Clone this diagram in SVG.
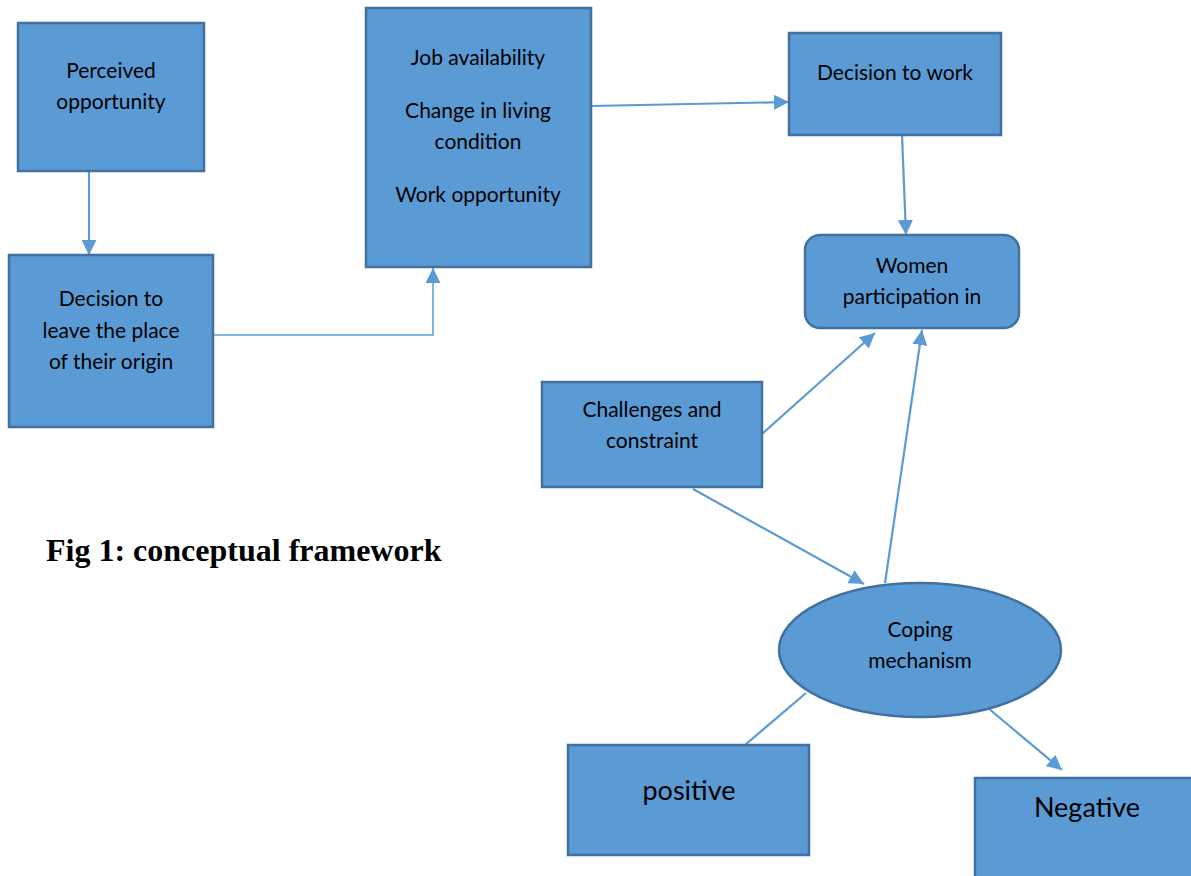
<svg xmlns="http://www.w3.org/2000/svg" width="1191" height="876" viewBox="0 0 1191 876">
  <style>
    .box { fill: #5B9BD5; stroke: #41719C; stroke-width: 2.5; }
    .lbl { font-family: Lato, "Open Sans", "Liberation Sans", sans-serif; font-size: 21px; fill: #000; text-anchor: middle; }
    .big { font-size: 27px; }
    .conn { fill: none; stroke: #5B9BD5; stroke-width: 2.2; }
    .thin { stroke-width: 1.5; }
    .cap { font-family: "Liberation Serif", "Times New Roman", serif; font-weight: bold; font-size: 32px; fill: #000; }
  </style>
  <defs>
    <marker id="arrow" viewBox="0 0 10 10" refX="10" refY="5" markerWidth="15" markerHeight="15" markerUnits="userSpaceOnUse" orient="auto">
      <path d="M0,0 L10,5 L0,10 z" fill="#5B9BD5"/>
    </marker>
  </defs>
  <rect width="1191" height="876" fill="#fff"/>

  <g id="connectors">
    <line class="conn" x1="89" y1="171" x2="89" y2="255" marker-end="url(#arrow)"/>
    <polyline class="conn thin" points="213,335 433,335 433,268" marker-end="url(#arrow)"/>
    <line class="conn" x1="591" y1="106" x2="789" y2="102" marker-end="url(#arrow)"/>
    <line class="conn" x1="902" y1="135" x2="906" y2="235" marker-end="url(#arrow)"/>
    <line class="conn" x1="762" y1="434" x2="875" y2="333" marker-end="url(#arrow)"/>
    <line class="conn" x1="885" y1="583" x2="922" y2="330" marker-end="url(#arrow)"/>
    <line class="conn" x1="693" y1="489" x2="864" y2="584" marker-end="url(#arrow)"/>
    <line class="conn" x1="806" y1="693" x2="745" y2="745"/>
    <line class="conn" x1="988" y1="708" x2="1062" y2="770" marker-end="url(#arrow)"/>
  </g>

  <g id="perceived-opportunity">
    <rect class="box" x="18" y="23" width="186" height="148"/>
    <text class="lbl" x="111" y="78">Perceived</text>
    <text class="lbl" x="111" y="109">opportunity</text>
  </g>

  <g id="decision-to-leave">
    <rect class="box" x="9" y="255" width="204" height="172"/>
    <text class="lbl" x="111" y="306">Decision to</text>
    <text class="lbl" x="111" y="338">leave the place</text>
    <text class="lbl" x="111" y="369">of their origin</text>
  </g>

  <g id="pull-factors">
    <rect class="box" x="366" y="8" width="225" height="259"/>
    <text class="lbl" x="478" y="65">Job availability</text>
    <text class="lbl" x="478" y="118">Change in living</text>
    <text class="lbl" x="478" y="149">condition</text>
    <text class="lbl" x="478" y="202">Work opportunity</text>
  </g>

  <g id="decision-to-work">
    <rect class="box" x="789" y="33" width="212" height="102"/>
    <text class="lbl" x="895" y="80">Decision to work</text>
  </g>

  <g id="women-participation">
    <rect class="box" x="805" y="235" width="214" height="93" rx="15" ry="15"/>
    <text class="lbl" x="912" y="273">Women</text>
    <text class="lbl" x="912" y="304">participation in</text>
  </g>

  <g id="challenges">
    <rect class="box" x="542" y="382" width="220" height="105"/>
    <text class="lbl" x="652" y="417">Challenges and</text>
    <text class="lbl" x="652" y="448">constraint</text>
  </g>

  <g id="coping-mechanism">
    <ellipse class="box" cx="920" cy="650" rx="141" ry="67"/>
    <text class="lbl" x="920" y="637">Coping</text>
    <text class="lbl" x="920" y="668">mechanism</text>
  </g>

  <g id="positive">
    <rect class="box" x="568" y="745" width="241" height="110"/>
    <text class="lbl big" x="689" y="800">positive</text>
  </g>

  <g id="negative">
    <rect class="box" x="975" y="778" width="220" height="102"/>
    <text class="lbl big" x="1087" y="817">Negative</text>
  </g>

  <text class="cap" x="46" y="561">Fig 1: conceptual framework</text>
</svg>
